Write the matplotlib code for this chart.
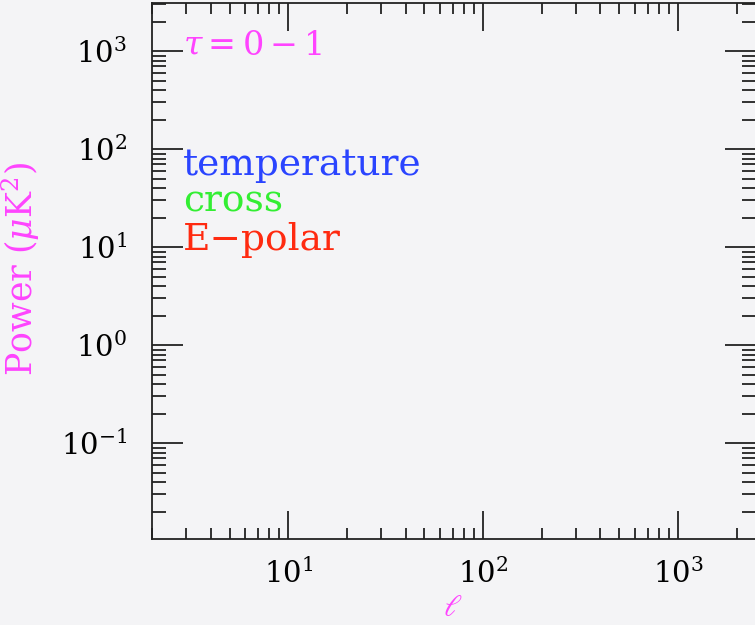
import math
import matplotlib
matplotlib.use("Agg")
import matplotlib.pyplot as plt
from matplotlib.ticker import LogLocator, FuncFormatter, NullFormatter

# ---- data (the chart contains no plotted series) ----
x_limits = [2.0, 2500.0]
y_limits = [0.0105, 3100.0]
title_text = r"$\tau = 0 - 1$"
legend_labels = ["temperature", "cross", "E\u2212polar"]
legend_colors = ["#2a44ff", "#33ee33", "#ff2a10"]
xlabel_text = r"$\ell$"
ylabel_text = r"Power ($\mu$K$^2$)"
magenta = "#ff44ff"

plt.rcParams["font.family"] = ["DejaVu Serif"]
plt.rcParams["mathtext.fontset"] = "dejavuserif"

W, H = 755, 625
fig = plt.figure(figsize=(7.55, 6.25), dpi=100, facecolor="#f4f4f6")
ax = fig.add_axes([152/W, 86/H, 603.5/W, 536/H])
ax.set_facecolor("#f4f4f6")
ax.set_xscale("log")
ax.set_yscale("log")
ax.set_xlim(*x_limits)
ax.set_ylim(*y_limits)

def fmt(v, pos):
    e = int(round(math.log10(v)))
    if e < 0:
        return r"$10^{-%d}$" % (-e)
    return r"$10^{%d}$" % e

ax.xaxis.set_major_locator(LogLocator(base=10, numticks=20))
ax.yaxis.set_major_locator(LogLocator(base=10, numticks=20))
ax.xaxis.set_minor_locator(LogLocator(base=10, subs=range(2, 10), numticks=20))
ax.yaxis.set_minor_locator(LogLocator(base=10, subs=range(2, 10), numticks=20))
ax.xaxis.set_major_formatter(FuncFormatter(fmt))
ax.yaxis.set_major_formatter(FuncFormatter(fmt))
ax.xaxis.set_minor_formatter(NullFormatter())
ax.yaxis.set_minor_formatter(NullFormatter())

ax.tick_params(which="both", direction="in", top=True, right=True, color="#222222")
ax.tick_params(which="major", length=22, width=1.3, labelsize=21, pad=18)
ax.tick_params(which="minor", length=10, width=1.3)
ax.tick_params(axis="x", which="major", length=20, pad=14)
ax.tick_params(axis="x", which="minor", length=8)
for s in ax.spines.values():
    s.set_linewidth(1.3)
    s.set_color("#222222")

x0 = 183 / W
fig.text(x0, 1 - 55/H, title_text, color=magenta, fontsize=24,
         va="baseline", ha="left")
baselines = [175, 212, 250]
for lab, col, b in zip(legend_labels, legend_colors, baselines):
    fig.text(x0, 1 - b/H, lab, color=col, fontsize=27,
             va="baseline", ha="left")

fig.text(21/W, 1 - 269/H, ylabel_text, rotation=90, color=magenta,
         fontsize=25, ha="center", va="center")
fig.text(453/W, 1 - 623/H, xlabel_text, color=magenta,
         fontsize=22, ha="center", va="bottom")

fig.savefig("out.png", dpi=100, facecolor=fig.get_facecolor())
